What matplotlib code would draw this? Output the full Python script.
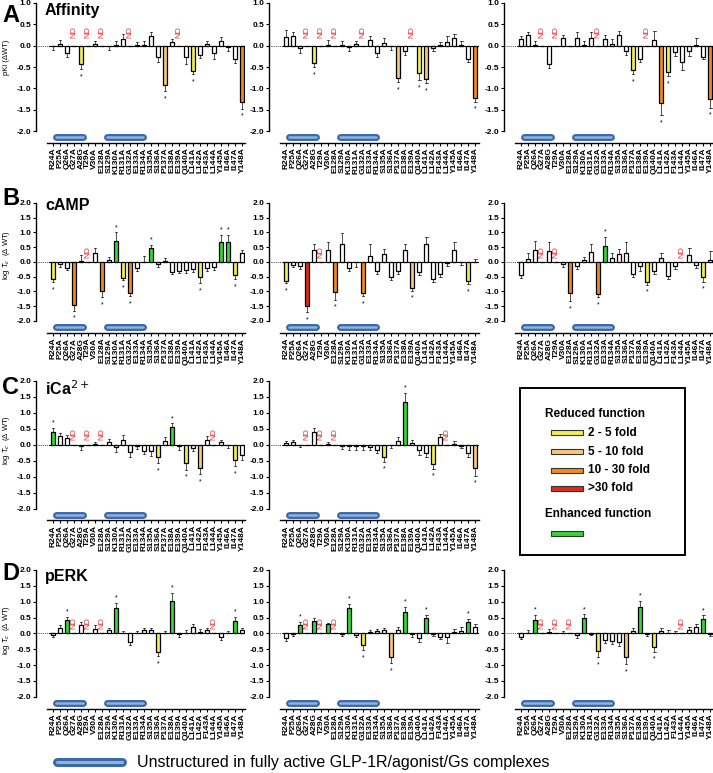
import numpy as np
import matplotlib
matplotlib.use('Agg')
import matplotlib.pyplot as plt
from matplotlib.patches import Rectangle
from matplotlib.lines import Line2D

plt.rcParams['font.family'] = ['Liberation Sans', 'DejaVu Sans']

cats = ['R24A', 'P25A', 'Q26A', 'G27A', 'A28G', 'T29A', 'V30A', 'E128A', 'S129A',
        'K130A', 'R131A', 'G132A', 'E133A', 'R134A', 'S135A', 'S136A', 'P137A',
        'E138A', 'E139A', 'Q140A', 'L141A', 'L142A', 'F143A', 'L144A', 'Y145A',
        'I146A', 'I147A', 'Y148A']

# None = ND (not determined); colour keys: y 2-5 fold, l 5-10, o 10-30, r >30, g enhanced
aff1_val = [-0.01, 0.03, -0.16, None, -0.43, None, 0.03, None, -0.01, 0.01, 0.15, None, 0.02, 0.01,
            0.22, -0.27, -0.93, 0.08, None, -0.27, -0.60, -0.21, 0.05, -0.17, 0.10, -0.02, -0.32, -1.32]
aff1_err = [0.08, 0.11, 0.10, 0, 0.12, 0, 0.08, 0, 0.10, 0.10, 0.13, 0, 0.06, 0.10,
            0.10, 0.10, 0.13, 0.08, 0, 0.15, 0.07, 0.08, 0.05, 0.15, 0.10, 0.10, 0.08, 0.15]
aff1_col = {4: 'y', 16: 'l', 20: 'y', 27: 'o'}
aff1_sig = [4, 16, 20, 27]

aff2_val = [0.20, 0.23, -0.06, None, -0.40, None, 0.01, None, 0.02, -0.04, 0.04, None, 0.13, -0.16,
            0.07, -0.01, -0.76, -0.12, None, -0.65, -0.77, -0.06, 0.01, 0.08, 0.18, 0.01, -0.30, -1.23]
aff2_err = [0.16, 0.10, 0.10, 0, 0.10, 0, 0.12, 0, 0.08, 0.08, 0.08, 0, 0.10, 0.10,
            0.10, 0.08, 0.10, 0.10, 0, 0.15, 0.10, 0.06, 0.08, 0.15, 0.10, 0.10, 0.08, 0.08]
aff2_col = {4: 'y', 16: 'l', 19: 'y', 20: 'l', 27: 'o'}
aff2_sig = [4, 16, 19, 20, 27]

aff3_val = [0.15, 0.25, 0.02, None, -0.43, None, 0.17, 0.0, 0.17, 0.01, 0.17, None, 0.15, 0.05,
            0.25, -0.12, -0.57, -0.30, None, 0.13, -1.33, -0.62, -0.15, -0.37, -0.13, 0.02, -0.26, -1.25]
aff3_err = [0.08, 0.07, 0.10, 0, 0.10, 0, 0.08, 0, 0.15, 0.10, 0.15, 0, 0.10, 0.10,
            0.10, 0.10, 0.10, 0.08, 0, 0.22, 0.30, 0.10, 0.08, 0.20, 0.10, 0.15, 0.06, 0.20]
aff3_col = {16: 'y', 20: 'o', 21: 'y', 27: 'o'}
aff3_sig = [16, 20, 21, 27]

camp1_val = [-0.58, -0.08, -0.20, -1.45, 0.04, None, 0.32, -1.00, 0.05, 0.70, -0.53, -1.07, -0.20, 0.01,
             0.46, -0.08, 0.03, -0.33, -0.30, -0.27, -0.25, -0.52, -0.20, -0.17, 0.66, 0.66, -0.43, 0.30]
camp1_err = [0.10, 0.08, 0.08, 0.20, 0.20, 0, 0.15, 0.20, 0.12, 0.30, 0.08, 0.10, 0.10, 0.18,
             0.12, 0.08, 0.12, 0.08, 0.08, 0.10, 0.10, 0.20, 0.10, 0.10, 0.25, 0.25, 0.15, 0.10]
camp1_col = {0: 'y', 3: 'o', 7: 'o', 9: 'g', 10: 'y', 11: 'o', 14: 'g', 21: 'y', 24: 'g', 25: 'g', 26: 'y'}
camp1_sig = [0, 3, 7, 9, 10, 11, 14, 21, 24, 25, 26]

camp2_val = [-0.65, -0.10, -0.15, -1.50, 0.40, None, 0.42, -1.03, 0.62, -0.20, -0.01, -1.07, 0.20, -0.30,
             0.28, -0.50, -0.30, 0.40, -0.87, -0.35, 0.60, -0.58, -0.40, -0.05, 0.42, -0.01, -0.65, 0.01]
camp2_err = [0.08, 0.08, 0.10, 0.20, 0.20, 0, 0.25, 0.25, 0.35, 0.10, 0.15, 0.10, 0.40, 0.10,
             0.15, 0.10, 0.10, 0.20, 0.10, 0.10, 0.25, 0.10, 0.10, 0.10, 0.25, 0.10, 0.10, 0.10]
camp2_col = {0: 'y', 3: 'r', 7: 'o', 11: 'o', 18: 'l', 26: 'y'}
camp2_sig = [0, 3, 7, 11, 18, 26]

camp3_val = [-0.45, 0.10, 0.40, None, 0.37, None, -0.07, -1.07, -0.15, 0.07, 0.35, -1.10, 0.55, 0.12,
             0.28, 0.32, -0.40, -0.15, -0.67, -0.32, 0.12, -0.47, -0.15, None, 0.22, -0.10, -0.52, 0.07]
camp3_err = [0.08, 0.20, 0.30, 0, 0.30, 0, 0.10, 0.25, 0.10, 0.10, 0.25, 0.10, 0.30, 0.20,
             0.15, 0.35, 0.10, 0.15, 0.10, 0.10, 0.20, 0.10, 0.10, 0, 0.25, 0.10, 0.15, 0.30]
camp3_col = {7: 'o', 11: 'o', 12: 'g', 18: 'y', 26: 'y'}
camp3_sig = [7, 11, 12, 18, 26]

ica1_val = [0.40, 0.28, 0.22, None, -0.03, None, 0.02, None, 0.07, -0.08, 0.14, -0.22, -0.03, -0.20,
            -0.20, -0.37, 0.12, 0.55, -0.03, -0.58, -0.10, -0.72, 0.15, None, 0.08, -0.01, -0.48, -0.33]
ica1_err = [0.12, 0.10, 0.10, 0, 0.12, 0, 0.05, 0, 0.10, 0.15, 0.15, 0.15, 0.10, 0.10,
            0.15, 0.20, 0.12, 0.12, 0.12, 0.20, 0.10, 0.20, 0.12, 0, 0.08, 0.10, 0.20, 0.15]
ica1_col = {0: 'g', 15: 'y', 17: 'g', 19: 'y', 21: 'l', 26: 'y'}
ica1_sig = [0, 15, 17, 19, 21, 26]

ica2_val = [0.06, 0.08, -0.02, None, 0.40, None, 0.03, None, -0.05, -0.03, -0.05, -0.05, -0.07, -0.15,
            -0.38, -0.01, 0.13, 1.33, 0.06, -0.18, -0.25, -0.60, 0.23, None, 0.01, -0.05, -0.27, -0.72]
ica2_err = [0.06, 0.08, 0.05, 0, 0.12, 0, 0.05, 0, 0.08, 0.12, 0.10, 0.10, 0.10, 0.10,
            0.15, 0.10, 0.10, 0.30, 0.10, 0.15, 0.15, 0.15, 0.10, 0, 0.10, 0.05, 0.10, 0.25]
ica2_col = {14: 'y', 17: 'g', 21: 'y', 27: 'l'}
ica2_sig = [14, 17, 21, 27]

erk1_val = [-0.04, 0.17, 0.43, None, 0.25, None, 0.15, None, 0.10, 0.80, 0.01, -0.28, 0.01, 0.10,
            0.10, -0.60, 0.01, 1.03, -0.01, 0.02, 0.20, 0.05, 0.12, None, -0.13, 0.01, 0.40, 0.10]
erk1_err = [0.06, 0.08, 0.10, 0, 0.10, 0, 0.10, 0, 0.06, 0.15, 0.08, 0.10, 0.08, 0.08,
            0.08, 0.12, 0.08, 0.25, 0.10, 0.08, 0.10, 0.08, 0.06, 0, 0.08, 0.05, 0.12, 0.08]
erk1_col = {2: 'g', 9: 'g', 15: 'y', 17: 'g', 26: 'g'}
erk1_sig = [2, 9, 15, 17, 26]

erk2_val = [-0.15, -0.02, 0.27, None, 0.38, None, 0.28, None, -0.01, 0.80, -0.04, -0.38, 0.04, 0.07,
            0.10, -0.73, 0.10, 0.68, -0.01, -0.15, 0.47, -0.01, -0.10, -0.10, 0.04, 0.09, 0.35, 0.20]
erk2_err = [0.08, 0.05, 0.10, 0, 0.10, 0, 0.06, 0, 0.08, 0.12, 0.06, 0.15, 0.08, 0.08,
            0.08, 0.20, 0.10, 0.15, 0.10, 0.12, 0.12, 0.06, 0.08, 0.20, 0.10, 0.10, 0.10, 0.10]
erk2_col = {2: 'g', 4: 'g', 6: 'g', 9: 'g', 11: 'y', 15: 'l', 17: 'g', 20: 'g', 26: 'g'}
erk2_sig = [2, 9, 11, 15, 17, 20, 26]

erk3_val = [-0.10, 0.02, 0.43, None, 0.04, None, 0.01, None, -0.04, 0.50, -0.01, -0.55, -0.20, -0.25,
            -0.27, -0.76, 0.07, 0.82, -0.01, -0.43, 0.06, 0.01, 0.01, None, 0.10, 0.20, 0.45, -0.01]
erk3_err = [0.08, 0.10, 0.15, 0, 0.10, 0, 0.05, 0, 0.10, 0.10, 0.05, 0.20, 0.10, 0.10,
            0.12, 0.20, 0.10, 0.20, 0.08, 0.15, 0.10, 0.10, 0.08, 0, 0.10, 0.10, 0.12, 0.08]
erk3_col = {2: 'g', 9: 'g', 11: 'y', 15: 'l', 17: 'g', 19: 'y', 26: 'g'}
erk3_sig = [2, 9, 11, 15, 17, 19, 26]

# unstructured stretches, in category units along the x axis
unstructured = [(0.0, 4.7), (7.3, 13.3)]

fill = {'w': 'white', 'y': '#f3ef4e', 'l': '#f5c97a', 'o': '#f08c1e', 'r': '#e02a1a', 'g': '#36d636'}

W, H = 713, 773
fig = plt.figure(figsize=(W / 100, H / 100), dpi=100)

col_left = [36.0, 269.3, 504.3]
ax_w = 209.5
# (top px, bottom px, ylim, top tick, y of blue bars)
rows = [(2.1, 142.7, (-2.27, 1.02), 1.0, -2.13),
        (202.1, 333.0, (-2.41, 2.03), 2.0, -2.19),
        (380.0, 520.3, (-2.37, 2.03), 2.0, -2.20),
        (569.0, 708.5, (-2.37, 2.03), 2.0, -2.19)]
xlim = (-2.4, 27.5)


def draw_panel(r, c, val, err, cols, sig):
    top, bot, ylim, ytop, ybar = rows[r]
    ax = fig.add_axes([col_left[c] / W, 1 - bot / H, ax_w / W, (bot - top) / H])
    x = np.arange(len(cats))
    h = [0 if v is None else v for v in val]
    fc = [fill[cols.get(i, 'w')] for i in x]
    ax.plot([xlim[0], -0.5], [0, 0], ls=(0, (1, 1.5)), color='k', lw=0.6)
    ax.plot([-0.5, 27.4], [0, 0], color='k', lw=0.8)
    for i in x:
        v = val[i]
        if v is None:
            ax.text(i, 0.32, 'ND', color='#e03030', fontsize=6, rotation=90,
                    ha='center', va='center')
            continue
        s = 1 if v >= 0 else -1
        e = err[i]
        if e > 0:
            ax.plot([i, i], [v, v + s * e], color='#222222', lw=0.55)
            ax.plot([i - 0.18, i + 0.18], [v + s * e] * 2, color='#222222', lw=0.55)
        if i in sig:
            ax.annotate('*', (i, v + s * e), xytext=(0, 3.5 if s > 0 else -5.5),
                        textcoords='offset points', ha='center', va='center', fontsize=5)
    ax.bar(x, h, width=0.62, color=fc, edgecolor='k', linewidth=0.9, zorder=3)
    for a, b in unstructured:
        ax.plot([a + 0.45, b - 0.45], [ybar, ybar], color='#3a68a8', lw=5,
                solid_capstyle='round', zorder=4)
        ax.plot([a + 0.45, b - 0.45], [ybar, ybar], color='#8fb2de', lw=1.8,
                solid_capstyle='round', zorder=5)
    ax.set_xlim(*xlim)
    ax.set_ylim(*ylim)
    for sp in ['top', 'right']:
        ax.spines[sp].set_visible(False)
    ax.spines['left'].set_bounds(-2, ytop)
    ax.spines['bottom'].set_bounds(-0.9, 27.5)
    ax.spines['left'].set_linewidth(1.0)
    ax.spines['bottom'].set_linewidth(1.0)
    yt = np.arange(-2, ytop + 0.01, 0.5)
    ax.set_yticks(yt)
    ax.set_yticklabels(['%.1f' % t for t in yt], fontsize=6, fontweight='bold')
    ax.set_xticks(x)
    ax.set_xticklabels(cats, rotation=90, fontsize=6, fontweight='bold')
    ax.tick_params(axis='both', length=2.5, width=0.8, pad=1)
    return ax


draw_panel(0, 0, aff1_val, aff1_err, aff1_col, aff1_sig)
draw_panel(0, 1, aff2_val, aff2_err, aff2_col, aff2_sig)
draw_panel(0, 2, aff3_val, aff3_err, aff3_col, aff3_sig)
draw_panel(1, 0, camp1_val, camp1_err, camp1_col, camp1_sig)
draw_panel(1, 1, camp2_val, camp2_err, camp2_col, camp2_sig)
draw_panel(1, 2, camp3_val, camp3_err, camp3_col, camp3_sig)
draw_panel(2, 0, ica1_val, ica1_err, ica1_col, ica1_sig)
draw_panel(2, 1, ica2_val, ica2_err, ica2_col, ica2_sig)
draw_panel(3, 0, erk1_val, erk1_err, erk1_col, erk1_sig)
draw_panel(3, 1, erk2_val, erk2_err, erk2_col, erk2_sig)
draw_panel(3, 2, erk3_val, erk3_err, erk3_col, erk3_sig)

# panel letters, titles, y labels
letters = [('A', 15, 'Affinity', 11, 'pKi (ΔWT)', 57),
           ('B', 198, 'cAMP', 205, r'log $\tau_c$  (Δ WT)', 255),
           ('C', 388, r'iCa$^{2+}$', 389, r'log $\tau_c$  (Δ WT)', 440),
           ('D', 573, 'pERK', 577, r'log $\tau_c$  (Δ WT)', 630)]
for let, ly, title, ty, ylab, yy in letters:
    fig.text(2 / W, 1 - ly / H, let, fontsize=17, fontweight='bold', ha='left', va='center')
    fig.text(45 / W, 1 - ty / H, title, fontsize=11.5, fontweight='bold', ha='left', va='center')
    fig.text(7 / W, 1 - yy / H, ylab, fontsize=5.5, rotation=90, ha='center', va='center')

# legend box
fig.add_artist(Rectangle((520 / W, 1 - 555 / H), 165 / W, 167 / H, transform=fig.transFigure,
                         fill=False, edgecolor='k', lw=1.4))
fig.text(545 / W, 1 - 414 / H, 'Reduced function', fontsize=8.5, fontweight='bold', va='center')
leg_items = [('y', '2 - 5 fold', 433), ('l', '5 - 10 fold', 452),
             ('o', '10 - 30 fold', 470), ('r', '>30 fold', 488)]
for key, lab, yy in leg_items:
    fig.add_artist(Rectangle((551 / W, 1 - (yy + 2.5) / H), 32 / W, 5 / H,
                             transform=fig.transFigure, facecolor=fill[key],
                             edgecolor='#333333', lw=0.8))
    fig.text(588 / W, 1 - yy / H, lab, fontsize=8.5, fontweight='bold', va='center')
fig.text(545 / W, 1 - 514 / H, 'Enhanced function', fontsize=8.5, fontweight='bold', va='center')
fig.add_artist(Rectangle((551 / W, 1 - 535.5 / H), 32 / W, 5 / H, transform=fig.transFigure,
                         facecolor=fill['g'], edgecolor='#333333', lw=0.8))

# bottom key for the blue bars
fig.add_artist(Line2D([57 / W, 122 / W], [1 - 762 / H] * 2, transform=fig.transFigure,
                      color='#3a68a8', lw=6.5, solid_capstyle='round'))
fig.add_artist(Line2D([57 / W, 122 / W], [1 - 762 / H] * 2, transform=fig.transFigure,
                      color='#8fb2de', lw=2.2, solid_capstyle='round'))
fig.text(137 / W, 1 - 762 / H, 'Unstructured in fully active GLP-1R/agonist/Gs complexes',
         fontsize=11.5, va='center')

fig.savefig('out.png', dpi=100)
